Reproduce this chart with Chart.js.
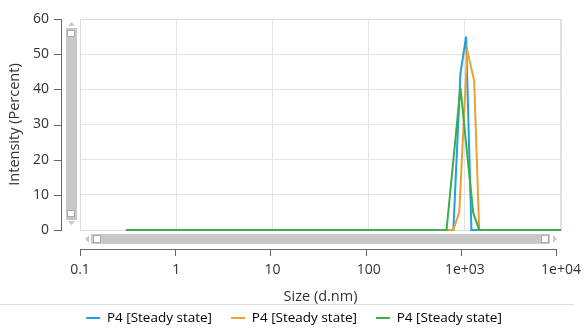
<!DOCTYPE html>
<html>
<head>
<meta charset="utf-8">
<script src="https://cdn.jsdelivr.net/npm/chart.js@4"></script>
<style>
  html, body { margin: 0; padding: 0; background: #fff; }
  #wrap { width: 588px; height: 329px; }
</style>
</head>
<body>
<div id="wrap"><canvas id="c" width="588" height="329"></canvas></div>
<script>
// ═══ Size distribution by intensity ═══
const seriesLabels = ["P4 [Steady state]", "P4 [Steady state]", "P4 [Steady state]"];
const seriesColors = ["#21a0dc", "#e9a034", "#3dac4a"];

const blueSize = [0.3, 760, 900, 1030, 1170, 10000];
const blueIntensity = [0, 0, 44.5, 55, 0, 0];
const orangeSize = [0.3, 758, 875, 1060, 1250, 1410, 10000];
const orangeIntensity = [0, 0, 5, 51, 42.5, 0, 0];
const greenSize = [0.3, 645, 900, 1220, 1410, 10000];
const greenIntensity = [0, 0, 40.5, 5, 0, 0];

const xTicks = [0.1, 1, 10, 100, 1000, 10000];
const xTickLabels = ["0.1", "1", "10", "100", "1e+03", "1e+04"];
const yTicks = [0, 10, 20, 30, 40, 50, 60];

const pts = (xs, ys) => xs.map((x, i) => ({ x, y: ys[i] }));

Chart.defaults.font.family = "'Open Sans', 'Noto Sans', sans-serif";
Chart.defaults.font.size = 14;
Chart.defaults.color = "#333";

// scrollbars, detached axis lines, separator
const decor = {
  id: "decor",
  beforeDatasetsDraw(chart) {
    const { ctx, chartArea: a } = chart;
    ctx.save();
    ctx.strokeStyle = "#dcdcdc";
    ctx.lineWidth = 1;
    ctx.strokeRect(a.left + 0.5, a.top + 0.5, a.right - a.left - 1, a.bottom - a.top);
    ctx.restore();
  },
  afterDraw(chart) {
    const { ctx, chartArea: a, scales: { x, y } } = chart;
    ctx.save();
    ctx.strokeStyle = "#666";
    ctx.lineWidth = 1;
    // y axis line
    ctx.beginPath();
    ctx.moveTo(61.5, y.getPixelForValue(60));
    ctx.lineTo(61.5, y.getPixelForValue(0));
    yTicks.forEach((v) => {
      const p = Math.round(y.getPixelForValue(v)) + 0.5;
      ctx.moveTo(54, p); ctx.lineTo(62, p);
    });
    // x axis line
    ctx.moveTo(a.left, 249.5);
    ctx.lineTo(a.right - 4, 249.5);
    xTicks.forEach((v, i) => {
      const p = Math.round(x.getPixelForValue(v) - i * 1) + 0.5;
      ctx.moveTo(p, 249); ctx.lineTo(p, 256);
    });
    ctx.stroke();

    // vertical scrollbar
    ctx.fillStyle = "#c8c8c8";
    ctx.fillRect(66, 28, 11, 192);
    ctx.fillStyle = "#fff";
    ctx.strokeStyle = "#aaa";
    ctx.fillRect(67.5, 30.5, 7, 6); ctx.strokeRect(67.5, 30.5, 7, 6);
    ctx.fillRect(67.5, 210.5, 7, 6); ctx.strokeRect(67.5, 210.5, 7, 6);
    ctx.fillStyle = "#c8c8c8";
    ctx.beginPath(); ctx.moveTo(68, 26); ctx.lineTo(75, 26); ctx.lineTo(71.5, 22); ctx.fill();
    ctx.beginPath(); ctx.moveTo(68, 221); ctx.lineTo(75, 221); ctx.lineTo(71.5, 225); ctx.fill();

    // horizontal scrollbar
    ctx.fillRect(91, 234, 459, 10);
    ctx.fillStyle = "#fff";
    ctx.fillRect(93.5, 235.5, 7, 7); ctx.strokeRect(93.5, 235.5, 7, 7);
    ctx.fillRect(541.5, 235.5, 7, 7); ctx.strokeRect(541.5, 235.5, 7, 7);
    ctx.fillStyle = "#c8c8c8";
    ctx.beginPath(); ctx.moveTo(89, 235); ctx.lineTo(89, 243); ctx.lineTo(85, 239); ctx.fill();
    ctx.beginPath(); ctx.moveTo(553, 235); ctx.lineTo(553, 243); ctx.lineTo(557, 239); ctx.fill();

    // separator above legend
    ctx.strokeStyle = "#dedede";
    ctx.beginPath(); ctx.moveTo(0, 304.5); ctx.lineTo(574, 304.5); ctx.stroke();
    ctx.restore();
  },
};

new Chart(document.getElementById("c"), {
  type: "scatter",
  data: {
    datasets: [
      { label: seriesLabels[0], data: pts(blueSize, blueIntensity), order: 3 },
      { label: seriesLabels[1], data: pts(orangeSize, orangeIntensity), order: 2 },
      { label: seriesLabels[2], data: pts(greenSize, greenIntensity), order: 1 },
    ].map((d, i) => ({
      ...d, showLine: true, borderColor: seriesColors[i], backgroundColor: seriesColors[i],
      borderWidth: 2, pointRadius: 0, tension: 0, clip: 3,
    })),
  },
  options: {
    responsive: false,
    animation: false,
    layout: { padding: { left: 0, right: 0, top: 19, bottom: -5.75 } },
    plugins: {
      tooltip: { enabled: false },
      legend: {
        position: "bottom",
        labels: {
          boxWidth: 14, boxHeight: 2, padding: 5, color: "#333", font: { size: 13.5 },
          sort: (a, b) => a.datasetIndex - b.datasetIndex,
          generateLabels(chart) {
            return chart.data.datasets.map((d, i) => ({
              text: d.label + (i < 2 ? "    " : ""), fillStyle: d.borderColor, strokeStyle: d.borderColor,
              lineWidth: 0, datasetIndex: i, hidden: false,
            }));
          },
        },
      },
    },
    scales: {
      x: {
        type: "logarithmic", min: 0.1, max: 10000,
        afterBuildTicks: (s) => { s.ticks = xTicks.map((v) => ({ value: v })); },
        afterFit: (s) => { s.height = 76.25; },
        ticks: { padding: 7, maxRotation: 0, autoSkip: false, callback: (v, i) => xTickLabels[i] },
        grid: { color: "#e4e4e4", tickLength: 24.5, tickColor: "transparent" },
        border: { display: false },
        title: { display: true, text: "Size (d.nm)", font: { size: 14.5 }, padding: { top: 0, bottom: 0.5 } },
      },
      y: {
        min: 0, max: 60,
        afterBuildTicks: (s) => { s.ticks = yTicks.map((v) => ({ value: v })); },
        afterFit: (s) => { s.width = 80; },
        ticks: { padding: 0 },
        grid: { color: "#e4e4e4", tickLength: 31, tickColor: "transparent" },
        border: { display: false },
        title: { display: true, text: "Intensity (Percent)", font: { size: 14.5 }, padding: { top: 6.3, bottom: 0 } },
      },
    },
  },
  plugins: [decor],
});
</script>
</body>
</html>
